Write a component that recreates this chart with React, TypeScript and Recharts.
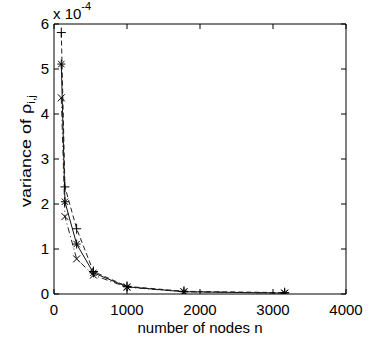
import { LineChart, Line, XAxis, YAxis, Label } from "recharts";

const nodes = [100, 150, 310, 540, 1000, 1780, 3160];
const plusVariance = [5.81e-4, 2.38e-4, 1.45e-4, 0.5e-4, 0.17e-4, 0.06e-4, 0.03e-4];
const starVariance = [5.11e-4, 2.05e-4, 1.11e-4, 0.47e-4, 0.16e-4, 0.05e-4, 0.02e-4];
const crossVariance = [4.36e-4, 1.72e-4, 0.78e-4, 0.42e-4, 0.15e-4, 0.05e-4, 0.02e-4];
const xTicks = [0, 1000, 2000, 3000, 4000];
const yTicks = [0, 1e-4, 2e-4, 3e-4, 4e-4, 5e-4, 6e-4];

const FONT = "'Liberation Sans', Arial, Helvetica, sans-serif";

const data = nodes.map((n, i) => ({
  n,
  plus: plusVariance[i],
  star: starVariance[i],
  cross: crossVariance[i],
}));

type DotProps = { cx?: number; cy?: number; index?: number };

function PlusDot({ cx, cy }: DotProps) {
  if (cx == null || cy == null) return null;
  return (
    <path
      d={`M${cx - 4.5},${cy}H${cx + 4.5}M${cx},${cy - 5}V${cy + 5}`}
      stroke="#000"
      strokeWidth={1}
      fill="none"
    />
  );
}

function CrossDot({ cx, cy }: DotProps) {
  if (cx == null || cy == null) return null;
  const r = 3.5;
  return (
    <path
      d={`M${cx - r},${cy - r}L${cx + r},${cy + r}M${cx - r},${cy + r}L${cx + r},${cy - r}`}
      stroke="#000"
      strokeWidth={1}
      fill="none"
    />
  );
}

function StarDot({ cx, cy }: DotProps) {
  if (cx == null || cy == null) return null;
  const r = 3.2;
  return (
    <path
      d={`M${cx - 4},${cy}H${cx + 4}M${cx},${cy - 4.5}V${cy + 4.5}M${cx - r},${cy - r}L${cx + r},${cy + r}M${cx - r},${cy + r}L${cx + r},${cy - r}`}
      stroke="#000"
      strokeWidth={1}
      fill="none"
    />
  );
}

const tickStyle = { fontSize: 15, fill: "#000", fontFamily: FONT };

export default function App() {
  return (
    <div style={{ position: "absolute", left: 0, top: 0, background: "#fff" }}>
      <LineChart
        width={368}
        height={342}
        data={data}
        margin={{ top: 23, right: 21, bottom: 0, left: 0 }}
      >
        <XAxis
          dataKey="n"
          type="number"
          domain={[0, 4000]}
          ticks={xTicks}
          height={48}
          stroke="#000"
          tick={tickStyle}
          tickSize={-5}
          tickMargin={15}
          allowDataOverflow
        >
          <Label
            content={() => (
              <text x={200} y={333} textAnchor="middle" fontSize={15} fontFamily={FONT} fill="#000">
                number of nodes n
              </text>
            )}
          />
        </XAxis>
        <XAxis
          xAxisId="top"
          orientation="top"
          dataKey="n"
          type="number"
          domain={[0, 4000]}
          ticks={xTicks}
          height={1}
          stroke="#000"
          tickSize={-5}
          tickFormatter={() => ""}
          allowDataOverflow
        />
        <YAxis
          type="number"
          domain={[0, 6e-4]}
          ticks={yTicks}
          width={54}
          stroke="#000"
          tick={tickStyle}
          tickSize={-5}
          tickMargin={10}
          tickFormatter={(v: number) => String(Math.round(v * 1e4))}
          allowDataOverflow
        >
          <Label
            content={() => (
              <text
                transform="translate(31,151) rotate(-90) scale(1.2,1)"
                textAnchor="middle"
                fontSize={15}
                fontFamily={FONT}
                fill="#000"
              >
                variance of ρ
                <tspan fontSize={10} dy={4}>
                  i,j
                </tspan>
              </text>
            )}
          />
          <Label
            content={() => (
              <text x={53} y={19} fontSize={15} fontFamily={FONT} fill="#000">
                x 10
                <tspan fontSize={11} dy={-9}>
                  -4
                </tspan>
              </text>
            )}
          />
        </YAxis>
        <YAxis
          yAxisId="right"
          orientation="right"
          type="number"
          domain={[0, 6e-4]}
          ticks={yTicks}
          width={1}
          stroke="#000"
          tickSize={-5}
          tickFormatter={() => ""}
          allowDataOverflow
        />
        {/* invisible series bound to the top/right axes so the box is drawn */}
        <Line
          xAxisId="top"
          yAxisId="right"
          dataKey="star"
          stroke="none"
          dot={false}
          activeDot={false}
          isAnimationActive={false}
        />
        <Line
          dataKey="plus"
          stroke="#222"
          strokeWidth={1}
          strokeDasharray="5 3"
          dot={(p: DotProps) => <PlusDot key={`p${p.index}`} {...p} />}
          isAnimationActive={false}
        />
        <Line
          dataKey="star"
          stroke="#111"
          strokeWidth={1}
          dot={(p: DotProps) => <StarDot key={`s${p.index}`} {...p} />}
          isAnimationActive={false}
        />
        <Line
          dataKey="cross"
          stroke="#222"
          strokeWidth={1}
          strokeDasharray="6 3 1 3"
          dot={(p: DotProps) => <CrossDot key={`c${p.index}`} {...p} />}
          isAnimationActive={false}
        />
      </LineChart>
    </div>
  );
}
